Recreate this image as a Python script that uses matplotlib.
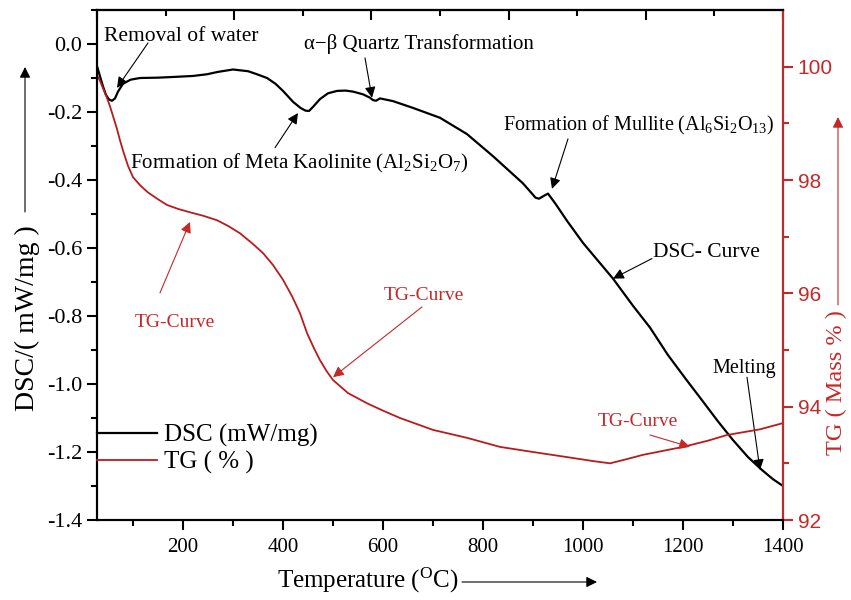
import numpy as np
import matplotlib.pyplot as plt
from matplotlib.ticker import MultipleLocator, FixedLocator, NullFormatter

plt.rcParams['font.family'] = ['Liberation Serif', 'DejaVu Serif']
plt.rcParams['mathtext.fontset'] = 'custom'
plt.rcParams['mathtext.rm'] = 'Liberation Serif'
plt.rcParams['mathtext.it'] = 'Liberation Serif:italic'

# DSC curve (mW/mg)
dsc_T = [28, 34, 40, 46, 52, 58, 64, 70, 80, 95, 114, 150, 180, 220, 248, 270, 300,
         330, 348, 368, 385, 400, 420, 435, 445, 452, 460, 474, 490, 508, 525, 540,
         560, 574, 580, 586, 594, 620, 660, 714, 768, 820, 850, 880, 895, 905, 912,
         920, 930, 945, 968, 1000, 1060, 1100, 1134, 1170, 1208, 1234, 1270, 1300,
         1330, 1358, 1380, 1400]
dsc_val = [-0.065, -0.095, -0.125, -0.15, -0.163, -0.167, -0.16, -0.14, -0.117,
           -0.105, -0.100, -0.099, -0.097, -0.094, -0.089, -0.082, -0.075, -0.080,
           -0.089, -0.100, -0.117, -0.138, -0.170, -0.188, -0.196, -0.197, -0.185,
           -0.162, -0.145, -0.138, -0.137, -0.140, -0.148, -0.158, -0.165, -0.167,
           -0.160, -0.168, -0.188, -0.217, -0.265, -0.33, -0.37, -0.41, -0.435,
           -0.452, -0.455, -0.448, -0.44, -0.47, -0.52, -0.585, -0.69, -0.77,
           -0.834, -0.915, -0.99, -1.04, -1.11, -1.165, -1.215, -1.253, -1.28, -1.30]

# TG curve (mass %)
tg_T = [28, 34, 40, 47, 54, 61, 68, 74, 80, 90, 100, 115, 130, 150, 168, 190, 214,
        240, 268, 290, 314, 340, 360, 380, 400, 418, 434, 448, 462, 474, 487, 500,
        530, 568, 600, 634, 700, 768, 834, 900, 968, 1020, 1054, 1090, 1120, 1160,
        1200, 1250, 1288, 1354, 1400]
tg_val = [99.85, 99.75, 99.62, 99.47, 99.3, 99.1, 98.9, 98.7, 98.52, 98.25, 98.05,
          97.9, 97.78, 97.66, 97.56, 97.49, 97.43, 97.37, 97.29, 97.19, 97.06, 96.87,
          96.71, 96.5, 96.24, 95.95, 95.65, 95.3, 95.03, 94.82, 94.63, 94.47, 94.24,
          94.06, 93.93, 93.8, 93.59, 93.45, 93.29, 93.2, 93.11, 93.04, 93.0, 93.08,
          93.15, 93.22, 93.29, 93.4, 93.5, 93.6, 93.71]

red = '#c62828'
red_line = '#b71c1c'

fig = plt.figure(figsize=(8.51, 6), dpi=100)
ax = fig.add_axes([97/851, 80/600, 686/851, 510/600])
ax2 = ax.twinx()

l1, = ax.plot(dsc_T, dsc_val, color='black', lw=1.6, label='DSC (mW/mg)')
l2, = ax2.plot(tg_T, tg_val, color=red_line, lw=1.3, label='TG ( % )')

ax.set_xlim(28, 1400)
ax.set_ylim(-1.4, 0.1)
ax2.set_ylim(92, 101)

ax.xaxis.set_major_locator(FixedLocator([200, 400, 600, 800, 1000, 1200, 1400]))
ax.xaxis.set_minor_locator(FixedLocator([100, 300, 500, 700, 900, 1100, 1300]))
ax.yaxis.set_major_locator(MultipleLocator(0.2))
ax.yaxis.set_minor_locator(MultipleLocator(0.1))
ax.yaxis.set_major_formatter(lambda v, p: f'{v:.1f}')
ax2.yaxis.set_major_locator(FixedLocator([92, 94, 96, 98, 100]))
ax2.yaxis.set_minor_locator(FixedLocator([93, 95, 97, 99]))

for a in (ax, ax2):
    for s in a.spines.values():
        s.set_linewidth(1.5)
ax2.spines['right'].set_color(red)

ax.tick_params(axis='x', which='major', direction='out', length=7, width=1.5, labelsize=15, pad=6)
ax.tick_params(axis='x', which='minor', direction='out', length=4, width=1.5)
ax.tick_params(axis='y', which='major', direction='out', length=7, width=1.5, labelsize=16)
ax.tick_params(axis='y', which='minor', direction='out', length=4, width=1.5)
ax2.tick_params(axis='y', which='major', direction='out', length=7, width=1.5,
                colors=red, labelsize=15)
ax2.tick_params(axis='y', which='minor', direction='out', length=4, width=1.5, colors=red)
for t in ax2.get_yticklabels():
    t.set_fontfamily('Liberation Sans')

# top axis ticks (inward, no labels)
top = ax.secondary_xaxis('top')
top_pos = np.linspace(28, 1400, 11)
top.xaxis.set_major_locator(FixedLocator(top_pos[::2]))
top.xaxis.set_minor_locator(FixedLocator(top_pos[1::2]))
top.xaxis.set_major_formatter(NullFormatter())
top.tick_params(which='major', direction='in', length=7, width=1.5)
top.tick_params(which='minor', direction='in', length=4, width=1.5)
top.spines['top'].set_linewidth(1.5)

leg = ax2.legend(handles=[l1, l2], loc='center left', bbox_to_anchor=(0, 0.139),
                 frameon=False, fontsize=18, borderpad=0, borderaxespad=0,
                 handlelength=2.4, handletextpad=0.3, labelspacing=0.15)

# annotations on DSC curve
arw = dict(arrowstyle='-|>', color='black', lw=0.8, mutation_scale=16, shrinkA=0, shrinkB=0)
ax.text(196, 0.0235, 'Removal of water', fontsize=15.5, ha='center', va='center')
ax.annotate('', xy=(68, -0.129), xytext=(130, 0.003), arrowprops=arw)
ax.text(672, 0.0, 'α−β Quartz Transformation', fontsize=15, ha='center', va='center')
ax.annotate('', xy=(578, -0.158), xytext=(564, -0.041), arrowprops=arw)
ax.text(94, -0.352, r'Formation of Meta Kaolinite (Al$_\mathregular{2}$Si$_\mathregular{2}$O$_\mathregular{7}$)',
        fontsize=15, ha='left', va='center')
ax.annotate('', xy=(430, -0.203), xytext=(384, -0.305), arrowprops=arw)
ax.text(840, -0.241, r'Formation of Mullite (Al$_{\mathregular{6}}$Si$_{\mathregular{2}}$O$_{\mathregular{13}}$)',
        fontsize=14.5, ha='left', va='center')
ax.annotate('', xy=(938, -0.426), xytext=(970, -0.279), arrowprops=arw)
ax.text(1140, -0.613, 'DSC- Curve', fontsize=15.5, ha='left', va='center')
ax.annotate('', xy=(1060, -0.690), xytext=(1138, -0.631), arrowprops=arw)
ax.text(1258, -0.954, 'Melting', fontsize=14.5, ha='left', va='center')
ax.annotate('', xy=(1354, -1.253), xytext=(1328, -0.980), arrowprops=arw)

# annotations on TG curve
arr = dict(arrowstyle='-|>', color=red, lw=0.8, mutation_scale=16, shrinkA=0, shrinkB=0)
ax2.text(184, 95.49, 'TG-Curve', fontsize=14, color=red, ha='center', va='center')
ax2.annotate('', xy=(214, 97.26), xytext=(154, 96.01), arrowprops=arr)
ax2.text(682, 95.97, 'TG-Curve', fontsize=14, color=red, ha='center', va='center')
ax2.annotate('', xy=(500, 94.52), xytext=(678, 95.76), arrowprops=arr)
ax2.text(1110, 93.73, 'TG-Curve', fontsize=14, color=red, ha='center', va='center')
ax2.annotate('', xy=(1214, 93.29), xytext=(1134, 93.50), arrowprops=arr)

# axis titles with arrows
arl = dict(arrowstyle='-|>', color='black', lw=0.8, mutation_scale=16, shrinkA=0, shrinkB=0)
fig.text(27/851, 1 - 318/600, 'DSC/( mW/mg )', rotation=90, fontsize=20,
         ha='center', va='center')
fig.add_artist(plt.Annotation('', xy=(25/851, 1 - 67/600), xytext=(25/851, 1 - 212/600),
                              xycoords='figure fraction', arrowprops=arl))
fig.text(836/851, 1 - 383/600, 'TG ( Mass % )', rotation=90, fontsize=17.5, color=red,
         ha='center', va='center')
fig.add_artist(plt.Annotation('', xy=(838/851, 1 - 117/600), xytext=(838/851, 1 - 305/600),
                              xycoords='figure fraction', arrowprops=arr))
fig.text(368/851, 1 - 580/600, r'Temperature ($^{\mathregular{O}}$C)', fontsize=18,
         ha='center', va='center')
fig.add_artist(plt.Annotation('', xy=(597/851, 1 - 582/600), xytext=(462/851, 1 - 582/600),
                              xycoords='figure fraction', arrowprops=arl))

fig.savefig('out.png', dpi=100)
